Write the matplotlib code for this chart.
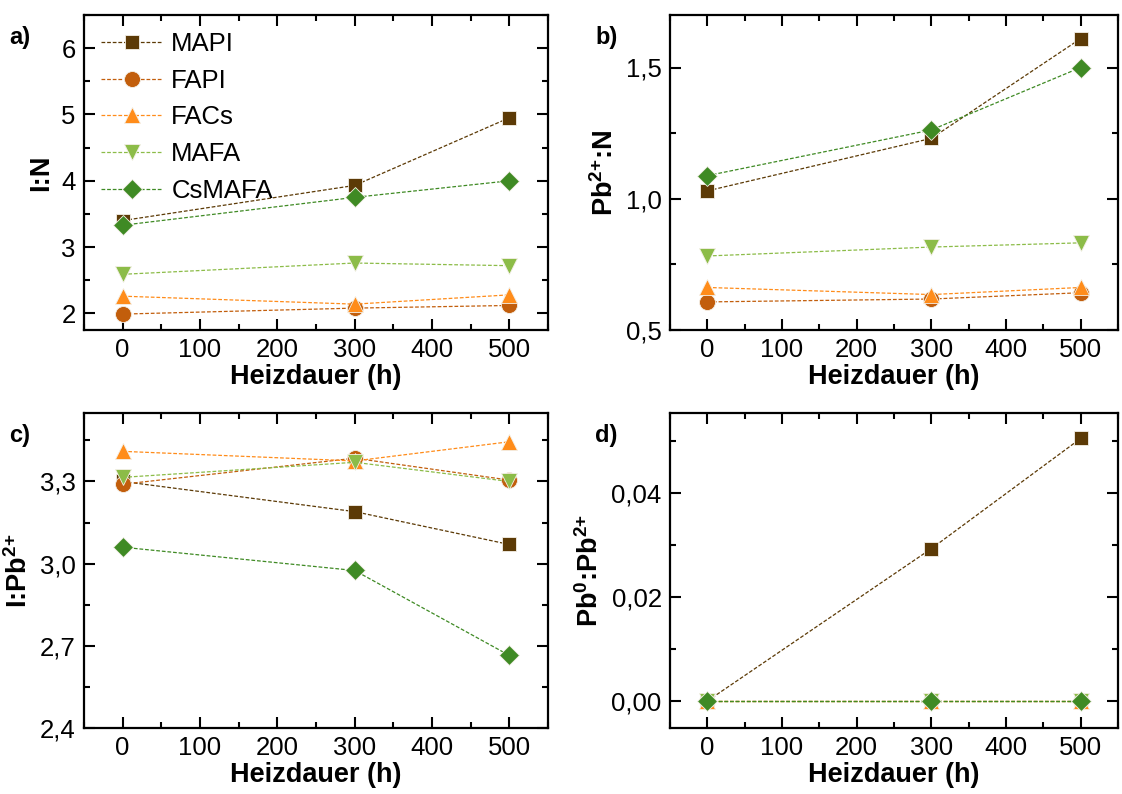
import matplotlib
matplotlib.use("Agg")
import matplotlib.pyplot as plt
from matplotlib.ticker import MultipleLocator, FuncFormatter

plt.rcParams['font.family'] = ['Liberation Sans', 'DejaVu Sans']
plt.rcParams['mathtext.fontset'] = 'custom'
plt.rcParams['mathtext.rm'] = 'Liberation Sans'
plt.rcParams['mathtext.bf'] = 'Liberation Sans:bold'

hours = [0, 300, 500]
samples = ['MAPI', 'FAPI', 'FACs', 'MAFA', 'CsMAFA']
colors = ['#5c3a06', '#c25e0c', '#ff8c1a', '#8cbc48', '#3f8a24']
markers = ['s', 'o', '^', 'v', 'D']

# a) I:N
i_n = {
    'MAPI':   [3.40, 3.93, 4.95],
    'FAPI':   [1.99, 2.08, 2.12],
    'FACs':   [2.26, 2.14, 2.28],
    'MAFA':   [2.59, 2.76, 2.72],
    'CsMAFA': [3.33, 3.75, 4.00],
}
# b) Pb2+:N
pb_n = {
    'MAPI':   [1.03, 1.23, 1.61],
    'FAPI':   [0.607, 0.618, 0.642],
    'FACs':   [0.662, 0.635, 0.662],
    'MAFA':   [0.782, 0.816, 0.832],
    'CsMAFA': [1.088, 1.262, 1.50],
}
# c) I:Pb2+
i_pb = {
    'MAPI':   [3.30, 3.19, 3.07],
    'FAPI':   [3.29, 3.385, 3.305],
    'FACs':   [3.41, 3.375, 3.445],
    'MAFA':   [3.315, 3.37, 3.30],
    'CsMAFA': [3.06, 2.975, 2.665],
}
# d) Pb0:Pb2+
pb0_pb = {
    'MAPI':   [0.0, 0.0293, 0.0505],
    'FAPI':   [0.0, 0.0, 0.0],
    'FACs':   [0.0, 0.0, 0.0],
    'MAFA':   [0.0, 0.0, 0.0],
    'CsMAFA': [0.0, 0.0, 0.0],
}

fig = plt.figure(figsize=(11.22, 7.94), dpi=100)
W, H = 1122, 794

def box(l, t, r, b):
    return [l / W, 1 - b / H, (r - l) / W, (b - t) / H]

axes = [
    fig.add_axes(box(84, 15, 548, 330)),
    fig.add_axes(box(670, 15, 1118, 330)),
    fig.add_axes(box(84, 413, 548, 728)),
    fig.add_axes(box(670, 413, 1118, 728)),
]

datasets = [i_n, pb_n, i_pb, pb0_pb]
sup2 = r'$^{\mathbf{2{+}}}$'
ylabels = ['I:N', 'Pb' + sup2 + ':N', 'I:Pb' + sup2,
           r'Pb$^{\mathbf{0}}$:Pb' + sup2]
ylims = [(1.75, 6.5), (0.5, 1.7), (2.4, 3.55), (-0.0052, 0.0554)]
ymajor = [1, 0.5, 0.3, 0.02]
yminor = [0.5, 0.25, 0.15, 0.01]
ydec = [0, 1, 1, 2]
panel = ['a)', 'b)', 'c)', 'd)']

for k, ax in enumerate(axes):
    data = datasets[k]
    for s, c, m in zip(samples, colors, markers):
        ms = 10.5 if m in ('s', 'D') else 11.5
        ax.plot(hours, data[s], linestyle=(0, (3, 1.5)), linewidth=0.9,
                color=c, marker=m, markersize=ms, markerfacecolor=c,
                markeredgecolor='#f4f0e8', markeredgewidth=0.6, label=s)
    ax.set_xlim(-50, 550)
    ax.set_ylim(*ylims[k])
    ax.xaxis.set_major_locator(MultipleLocator(100))
    ax.xaxis.set_minor_locator(MultipleLocator(50))
    ax.yaxis.set_major_locator(MultipleLocator(ymajor[k]))
    ax.yaxis.set_minor_locator(MultipleLocator(yminor[k]))
    d = ydec[k]
    ax.yaxis.set_major_formatter(FuncFormatter(
        lambda v, p, d=d: f'{v:.{d}f}'.replace('.', ',').replace('-0,00', '0,00')))
    ax.tick_params(which='both', direction='in', top=True, right=True,
                   labelsize=18.5, width=1.5)
    ax.tick_params(which='major', length=8, pad=6)
    ax.tick_params(which='minor', length=4)
    for sp in ax.spines.values():
        sp.set_linewidth(1.6)
    ax.set_xlabel('Heizdauer (h)', fontsize=19.5, fontweight='bold', labelpad=1)
    ax.set_ylabel(ylabels[k], fontsize=19.5, fontweight='bold', labelpad=5)
    pos = ax.get_position()
    fig.text(pos.x0 - 75 / W, pos.y1 - 29 / H, panel[k], fontsize=17,
             fontweight='bold', ha='left', va='baseline')

axes[0].legend(loc='upper left', frameon=False, fontsize=18.5, handlelength=2.4,
               handletextpad=0.35, labelspacing=0.5, borderaxespad=0.25,
               bbox_to_anchor=(0.0, 1.0))

fig.savefig('out.png', dpi=100)
